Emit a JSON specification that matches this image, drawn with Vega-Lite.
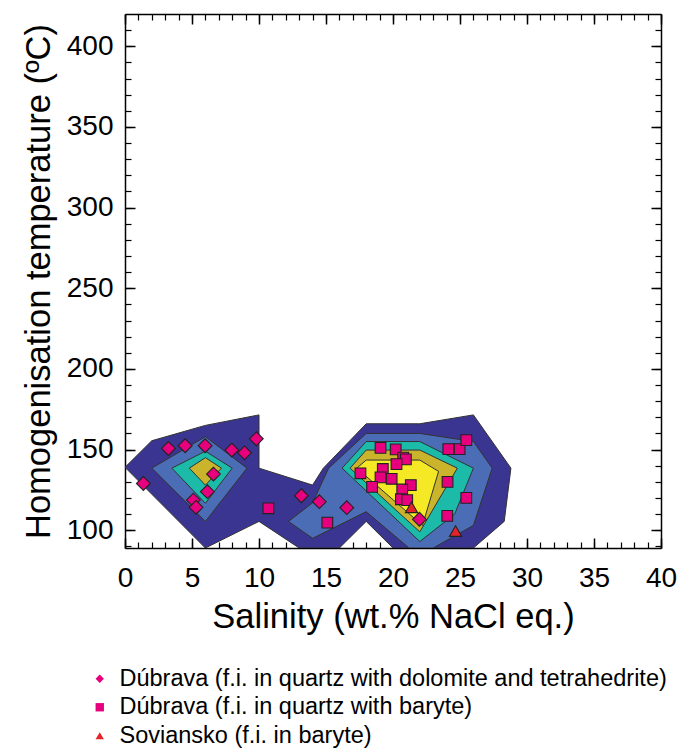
{
  "$schema": "https://vega.github.io/schema/vega-lite/v6.json",
  "autosize": {"type": "none"},
  "width": 536,
  "height": 534,
  "padding": {"left": 125, "top": 14, "right": 23, "bottom": 200},
  "background": "white",
  "config": {"font": "Liberation Sans", "view": {"stroke": null}, "axis": {"grid": false},
    "legend": {"title": null, "orient": "none", "legendX": -37, "legendY": 653, "labelFontSize": 23.5, "labelColor": "black", "labelFont": "Liberation Sans",
      "symbolSize": 70, "rowPadding": 3.5, "labelOffset": 8, "labelLimit": 0, "symbolStrokeColor": "#333333", "symbolStrokeWidth": 0.8}},
  "datasets": {
    "contours": [
      {"level": 1, "id": "L1", "i": 0, "x": 0, "y": 139},
      {"level": 1, "id": "L1", "i": 1, "x": 2, "y": 155.5},
      {"level": 1, "id": "L1", "i": 2, "x": 6, "y": 165},
      {"level": 1, "id": "L1", "i": 3, "x": 10, "y": 171.5},
      {"level": 1, "id": "L1", "i": 4, "x": 10, "y": 138.5},
      {"level": 1, "id": "L1", "i": 5, "x": 14, "y": 128},
      {"level": 1, "id": "L1", "i": 6, "x": 14.8, "y": 138.5},
      {"level": 1, "id": "L1", "i": 7, "x": 18, "y": 166},
      {"level": 1, "id": "L1", "i": 8, "x": 22, "y": 166},
      {"level": 1, "id": "L1", "i": 9, "x": 26, "y": 171.5},
      {"level": 1, "id": "L1", "i": 10, "x": 28.8, "y": 138.5},
      {"level": 1, "id": "L1", "i": 11, "x": 28.3, "y": 105.5},
      {"level": 1, "id": "L1", "i": 12, "x": 26, "y": 89},
      {"level": 1, "id": "L1", "i": 13, "x": 20, "y": 89},
      {"level": 1, "id": "L1", "i": 14, "x": 18, "y": 105.5},
      {"level": 1, "id": "L1", "i": 15, "x": 16, "y": 89},
      {"level": 1, "id": "L1", "i": 16, "x": 13, "y": 89},
      {"level": 1, "id": "L1", "i": 17, "x": 10, "y": 105.5},
      {"level": 1, "id": "L1", "i": 18, "x": 6, "y": 89},
      {"level": 1, "id": "L1", "i": 19, "x": 0, "y": 139},

      {"level": 2, "id": "L2a", "i": 0, "x": 2, "y": 138.5},
      {"level": 2, "id": "L2a", "i": 1, "x": 6, "y": 158},
      {"level": 2, "id": "L2a", "i": 2, "x": 9.1, "y": 138.5},
      {"level": 2, "id": "L2a", "i": 3, "x": 6, "y": 105.5},
      {"level": 2, "id": "L2a", "i": 4, "x": 2, "y": 138.5},
      {"level": 2, "id": "L2b", "i": 0, "x": 12.2, "y": 105.5},
      {"level": 2, "id": "L2b", "i": 1, "x": 14, "y": 95},
      {"level": 2, "id": "L2b", "i": 2, "x": 18, "y": 111.5},
      {"level": 2, "id": "L2b", "i": 3, "x": 21.2, "y": 89},
      {"level": 2, "id": "L2b", "i": 4, "x": 23, "y": 89},
      {"level": 2, "id": "L2b", "i": 5, "x": 26, "y": 103},
      {"level": 2, "id": "L2b", "i": 6, "x": 27.4, "y": 138.5},
      {"level": 2, "id": "L2b", "i": 7, "x": 26, "y": 155},
      {"level": 2, "id": "L2b", "i": 8, "x": 22, "y": 160},
      {"level": 2, "id": "L2b", "i": 9, "x": 18, "y": 160},
      {"level": 2, "id": "L2b", "i": 10, "x": 15.2, "y": 138.5},
      {"level": 2, "id": "L2b", "i": 11, "x": 14, "y": 117},
      {"level": 2, "id": "L2b", "i": 12, "x": 12.2, "y": 105.5},

      {"level": 3, "id": "L3a", "i": 0, "x": 3.5, "y": 138.5},
      {"level": 3, "id": "L3a", "i": 1, "x": 6, "y": 149},
      {"level": 3, "id": "L3a", "i": 2, "x": 8, "y": 138.5},
      {"level": 3, "id": "L3a", "i": 3, "x": 6, "y": 116.7},
      {"level": 3, "id": "L3a", "i": 4, "x": 3.5, "y": 138.5},
      {"level": 3, "id": "L3b", "i": 0, "x": 16.2, "y": 138.5},
      {"level": 3, "id": "L3b", "i": 1, "x": 18, "y": 155},
      {"level": 3, "id": "L3b", "i": 2, "x": 22, "y": 155},
      {"level": 3, "id": "L3b", "i": 3, "x": 26, "y": 138.5},
      {"level": 3, "id": "L3b", "i": 4, "x": 24.6, "y": 110},
      {"level": 3, "id": "L3b", "i": 5, "x": 22, "y": 93},
      {"level": 3, "id": "L3b", "i": 6, "x": 16.2, "y": 138.5},

      {"level": 4, "id": "L4a", "i": 0, "x": 4.8, "y": 138.5},
      {"level": 4, "id": "L4a", "i": 1, "x": 6, "y": 145},
      {"level": 4, "id": "L4a", "i": 2, "x": 7.2, "y": 138.5},
      {"level": 4, "id": "L4a", "i": 3, "x": 6, "y": 128},
      {"level": 4, "id": "L4a", "i": 4, "x": 4.8, "y": 138.5},
      {"level": 4, "id": "L4b", "i": 0, "x": 16.8, "y": 138.5},
      {"level": 4, "id": "L4b", "i": 1, "x": 18, "y": 149.7},
      {"level": 4, "id": "L4b", "i": 2, "x": 22, "y": 149.7},
      {"level": 4, "id": "L4b", "i": 3, "x": 24.8, "y": 138.5},
      {"level": 4, "id": "L4b", "i": 4, "x": 22, "y": 99},
      {"level": 4, "id": "L4b", "i": 5, "x": 16.8, "y": 138.5},

      {"level": 5, "id": "L5b", "i": 0, "x": 17.3, "y": 138.5},
      {"level": 5, "id": "L5b", "i": 1, "x": 18, "y": 143.5},
      {"level": 5, "id": "L5b", "i": 2, "x": 22, "y": 143.5},
      {"level": 5, "id": "L5b", "i": 3, "x": 23.4, "y": 136.5},
      {"level": 5, "id": "L5b", "i": 4, "x": 22.2, "y": 103},
      {"level": 5, "id": "L5b", "i": 5, "x": 17.3, "y": 138.5}
    ],
    "points": [
      {"group": "Dúbrava (f.i. in quartz with dolomite and tetrahedrite)", "x": 1.37, "y": 129},
      {"group": "Dúbrava (f.i. in quartz with dolomite and tetrahedrite)", "x": 3.24, "y": 150.7},
      {"group": "Dúbrava (f.i. in quartz with dolomite and tetrahedrite)", "x": 4.49, "y": 152.4},
      {"group": "Dúbrava (f.i. in quartz with dolomite and tetrahedrite)", "x": 5.98, "y": 152.4},
      {"group": "Dúbrava (f.i. in quartz with dolomite and tetrahedrite)", "x": 7.97, "y": 149.7},
      {"group": "Dúbrava (f.i. in quartz with dolomite and tetrahedrite)", "x": 8.92, "y": 148},
      {"group": "Dúbrava (f.i. in quartz with dolomite and tetrahedrite)", "x": 9.8, "y": 156.7},
      {"group": "Dúbrava (f.i. in quartz with dolomite and tetrahedrite)", "x": 6.6, "y": 134.8},
      {"group": "Dúbrava (f.i. in quartz with dolomite and tetrahedrite)", "x": 6.15, "y": 123.9},
      {"group": "Dúbrava (f.i. in quartz with dolomite and tetrahedrite)", "x": 5.1, "y": 118.7},
      {"group": "Dúbrava (f.i. in quartz with dolomite and tetrahedrite)", "x": 5.3, "y": 114.2},
      {"group": "Dúbrava (f.i. in quartz with dolomite and tetrahedrite)", "x": 13.16, "y": 121.4},
      {"group": "Dúbrava (f.i. in quartz with dolomite and tetrahedrite)", "x": 14.5, "y": 117.7},
      {"group": "Dúbrava (f.i. in quartz with dolomite and tetrahedrite)", "x": 16.55, "y": 114},
      {"group": "Dúbrava (f.i. in quartz with dolomite and tetrahedrite)", "x": 21.97, "y": 106.8},
      {"group": "Dúbrava (f.i. in quartz with baryte)", "x": 10.7, "y": 113.6},
      {"group": "Dúbrava (f.i. in quartz with baryte)", "x": 15.1, "y": 104.7},
      {"group": "Dúbrava (f.i. in quartz with baryte)", "x": 19.07, "y": 151.1},
      {"group": "Dúbrava (f.i. in quartz with baryte)", "x": 20.2, "y": 150.1},
      {"group": "Dúbrava (f.i. in quartz with baryte)", "x": 20.76, "y": 145},
      {"group": "Dúbrava (f.i. in quartz with baryte)", "x": 20.96, "y": 143.9},
      {"group": "Dúbrava (f.i. in quartz with baryte)", "x": 20.26, "y": 141},
      {"group": "Dúbrava (f.i. in quartz with baryte)", "x": 17.57, "y": 135.3},
      {"group": "Dúbrava (f.i. in quartz with baryte)", "x": 19.24, "y": 138},
      {"group": "Dúbrava (f.i. in quartz with baryte)", "x": 19.07, "y": 132.8},
      {"group": "Dúbrava (f.i. in quartz with baryte)", "x": 19.9, "y": 131.9},
      {"group": "Dúbrava (f.i. in quartz with baryte)", "x": 18.44, "y": 126.9},
      {"group": "Dúbrava (f.i. in quartz with baryte)", "x": 21.33, "y": 128},
      {"group": "Dúbrava (f.i. in quartz with baryte)", "x": 20.69, "y": 125.3},
      {"group": "Dúbrava (f.i. in quartz with baryte)", "x": 20.59, "y": 119.2},
      {"group": "Dúbrava (f.i. in quartz with baryte)", "x": 21.06, "y": 118.7},
      {"group": "Dúbrava (f.i. in quartz with baryte)", "x": 24.13, "y": 150.3},
      {"group": "Dúbrava (f.i. in quartz with baryte)", "x": 24.97, "y": 150.3},
      {"group": "Dúbrava (f.i. in quartz with baryte)", "x": 25.47, "y": 155.9},
      {"group": "Dúbrava (f.i. in quartz with baryte)", "x": 24.07, "y": 130},
      {"group": "Dúbrava (f.i. in quartz with baryte)", "x": 25.47, "y": 120.1},
      {"group": "Dúbrava (f.i. in quartz with baryte)", "x": 24.05, "y": 108.9},
      {"group": "Soviansko (f.i. in baryte)", "x": 21.38, "y": 114.2},
      {"group": "Soviansko (f.i. in baryte)", "x": 24.67, "y": 99.5}
    ]
  },
  "layer": [
    {
      "data": {"name": "contours"},
      "transform": [{"filter": "datum.level == 1"}],
      "mark": {"type": "line", "fill": "#3A3591", "stroke": "#333333", "strokeWidth": 1, "clip": true},
      "encoding": {
        "x": {"field": "x", "type": "quantitative", "scale": {"domain": [0, 40], "nice": false, "zero": false},
          "axis": {"orient": "bottom", "values": [0, 5, 10, 15, 20, 25, 30, 35, 40], "tickSize": -10, "tickColor": "black", "tickWidth": 1.5,
            "domainColor": "black", "domainWidth": 1.5, "labelFontSize": 28, "labelColor": "black", "labelPadding": 26, "labelFlush": false,
            "title": "Salinity (wt.% NaCl eq.)", "titleFontSize": 34.5, "titleFontWeight": "normal", "titleColor": "black", "titlePadding": 8}},
        "y": {"field": "y", "type": "quantitative", "scale": {"domain": [89, 420], "nice": false, "zero": false},
          "axis": {"orient": "left", "values": [100, 150, 200, 250, 300, 350, 400], "tickSize": -10, "tickColor": "black", "tickWidth": 1.5,
            "domainColor": "black", "domainWidth": 1.5, "labelFontSize": 28, "labelColor": "black", "labelPadding": 22, "labelFlush": false,
            "title": "Homogenisation temperature (ºC)", "titleFontSize": 34.5, "titleFontWeight": "normal", "titleColor": "black", "titlePadding": 10}},
        "detail": {"field": "id"},
        "order": {"field": "i"}
      }
    },
    {
      "data": {"name": "contours"},
      "transform": [{"filter": "datum.level == 2"}],
      "mark": {"type": "line", "fill": "#4A6DB5", "stroke": "#333333", "strokeWidth": 1, "clip": true},
      "encoding": {
        "x": {"field": "x", "type": "quantitative", "scale": {"domain": [0, 40], "nice": false, "zero": false},
          "axis": {"orient": "bottom", "values": [0,1,2,3,4,5,6,7,8,9,10,11,12,13,14,15,16,17,18,19,20,21,22,23,24,25,26,27,28,29,30,31,32,33,34,35,36,37,38,39,40],
            "tickSize": -6, "tickColor": "black", "tickWidth": 1.2, "labels": false, "domain": false, "title": null}},
        "y": {"field": "y", "type": "quantitative", "scale": {"domain": [89, 420], "nice": false, "zero": false},
          "axis": {"orient": "left", "values": [90,100,110,120,130,140,150,160,170,180,190,200,210,220,230,240,250,260,270,280,290,300,310,320,330,340,350,360,370,380,390,400,410],
            "tickSize": -6, "tickColor": "black", "tickWidth": 1.2, "labels": false, "domain": false, "title": null}},
        "detail": {"field": "id"},
        "order": {"field": "i"}
      }
    },
    {
      "data": {"name": "contours"},
      "transform": [{"filter": "datum.level == 3"}],
      "mark": {"type": "line", "fill": "#1CBAA9", "stroke": "#333333", "strokeWidth": 1, "clip": true},
      "encoding": {
        "x": {"field": "x", "type": "quantitative", "scale": {"domain": [0, 40], "nice": false, "zero": false},
          "axis": {"orient": "top", "values": [0, 5, 10, 15, 20, 25, 30, 35, 40], "tickSize": -10, "tickColor": "black", "tickWidth": 1.5,
            "domainColor": "black", "domainWidth": 1.5, "labels": false, "title": null}},
        "y": {"field": "y", "type": "quantitative", "scale": {"domain": [89, 420], "nice": false, "zero": false},
          "axis": {"orient": "right", "values": [100, 150, 200, 250, 300, 350, 400], "tickSize": -10, "tickColor": "black", "tickWidth": 1.5,
            "domainColor": "black", "domainWidth": 1.5, "labels": false, "title": null}},
        "detail": {"field": "id"},
        "order": {"field": "i"}
      }
    },
    {
      "data": {"name": "contours"},
      "transform": [{"filter": "datum.level == 4"}],
      "mark": {"type": "line", "fill": "#C9B42C", "stroke": "#333333", "strokeWidth": 1, "clip": true},
      "encoding": {
        "x": {"field": "x", "type": "quantitative", "scale": {"domain": [0, 40], "nice": false, "zero": false},
          "axis": {"orient": "top", "values": [0,1,2,3,4,5,6,7,8,9,10,11,12,13,14,15,16,17,18,19,20,21,22,23,24,25,26,27,28,29,30,31,32,33,34,35,36,37,38,39,40],
            "tickSize": -6, "tickColor": "black", "tickWidth": 1.2, "labels": false, "domain": false, "title": null}},
        "y": {"field": "y", "type": "quantitative", "scale": {"domain": [89, 420], "nice": false, "zero": false},
          "axis": {"orient": "right", "values": [90,100,110,120,130,140,150,160,170,180,190,200,210,220,230,240,250,260,270,280,290,300,310,320,330,340,350,360,370,380,390,400,410],
            "tickSize": -6, "tickColor": "black", "tickWidth": 1.2, "labels": false, "domain": false, "title": null}},
        "detail": {"field": "id"},
        "order": {"field": "i"}
      }
    },
    {
      "data": {"name": "contours"},
      "transform": [{"filter": "datum.level == 5"}],
      "mark": {"type": "line", "fill": "#F4E924", "stroke": "#333333", "strokeWidth": 1, "clip": true},
      "encoding": {
        "x": {"field": "x", "type": "quantitative", "scale": {"domain": [0, 40], "nice": false, "zero": false}, "axis": null},
        "y": {"field": "y", "type": "quantitative", "scale": {"domain": [89, 420], "nice": false, "zero": false}, "axis": null},
        "detail": {"field": "id"},
        "order": {"field": "i"}
      }
    },
    {
      "data": {"name": "points"},
      "transform": [{"filter": "datum.group == 'Dúbrava (f.i. in quartz with dolomite and tetrahedrite)'"}],
      "mark": {"type": "point", "filled": true, "stroke": "#222222", "strokeWidth": 1.1, "opacity": 1, "size": 190},
      "encoding": {
        "x": {"field": "x", "type": "quantitative", "scale": {"domain": [0, 40], "nice": false, "zero": false}, "axis": null},
        "y": {"field": "y", "type": "quantitative", "scale": {"domain": [89, 420], "nice": false, "zero": false}, "axis": null},
        "shape": {"field": "group", "type": "nominal",
          "scale": {"domain": ["Dúbrava (f.i. in quartz with dolomite and tetrahedrite)", "Dúbrava (f.i. in quartz with baryte)", "Soviansko (f.i. in baryte)"],
            "range": ["diamond", "square", "triangle-up"]}},
        "fill": {"field": "group", "type": "nominal",
          "scale": {"domain": ["Dúbrava (f.i. in quartz with dolomite and tetrahedrite)", "Dúbrava (f.i. in quartz with baryte)", "Soviansko (f.i. in baryte)"],
            "range": ["#E6007E", "#E6007E", "#E5242A"]}}
      }
    },
    {
      "data": {"name": "points"},
      "transform": [{"filter": "datum.group == 'Dúbrava (f.i. in quartz with baryte)'"}],
      "mark": {"type": "point", "filled": true, "stroke": "#222222", "strokeWidth": 1.1, "opacity": 1, "size": 115},
      "encoding": {
        "x": {"field": "x", "type": "quantitative", "scale": {"domain": [0, 40], "nice": false, "zero": false}, "axis": null},
        "y": {"field": "y", "type": "quantitative", "scale": {"domain": [89, 420], "nice": false, "zero": false}, "axis": null},
        "shape": {"field": "group", "type": "nominal",
          "scale": {"domain": ["Dúbrava (f.i. in quartz with dolomite and tetrahedrite)", "Dúbrava (f.i. in quartz with baryte)", "Soviansko (f.i. in baryte)"],
            "range": ["diamond", "square", "triangle-up"]}},
        "fill": {"field": "group", "type": "nominal",
          "scale": {"domain": ["Dúbrava (f.i. in quartz with dolomite and tetrahedrite)", "Dúbrava (f.i. in quartz with baryte)", "Soviansko (f.i. in baryte)"],
            "range": ["#E6007E", "#E6007E", "#E5242A"]}}
      }
    },
    {
      "data": {"name": "points"},
      "transform": [{"filter": "datum.group == 'Soviansko (f.i. in baryte)'"}],
      "mark": {"type": "point", "filled": true, "stroke": "#222222", "strokeWidth": 1.1, "opacity": 1, "size": 150},
      "encoding": {
        "x": {"field": "x", "type": "quantitative", "scale": {"domain": [0, 40], "nice": false, "zero": false}, "axis": null},
        "y": {"field": "y", "type": "quantitative", "scale": {"domain": [89, 420], "nice": false, "zero": false}, "axis": null},
        "shape": {"field": "group", "type": "nominal",
          "scale": {"domain": ["Dúbrava (f.i. in quartz with dolomite and tetrahedrite)", "Dúbrava (f.i. in quartz with baryte)", "Soviansko (f.i. in baryte)"],
            "range": ["diamond", "square", "triangle-up"]}},
        "fill": {"field": "group", "type": "nominal",
          "scale": {"domain": ["Dúbrava (f.i. in quartz with dolomite and tetrahedrite)", "Dúbrava (f.i. in quartz with baryte)", "Soviansko (f.i. in baryte)"],
            "range": ["#E6007E", "#E6007E", "#E5242A"]}}
      }
    }
  ],
  "resolve": {"axis": {"x": "independent", "y": "independent"}}
}
